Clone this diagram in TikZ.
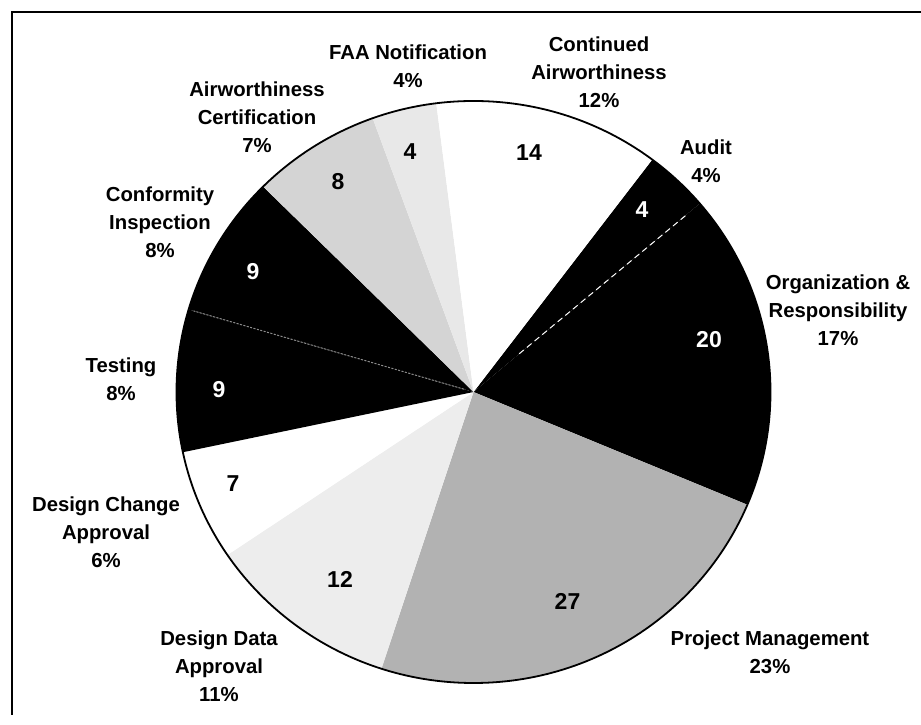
\documentclass[tikz,border=0pt]{standalone}
\usepackage{fontspec}
\setmainfont{Liberation Sans}
\begin{document}
\begin{tikzpicture}[x=1pt,y=1pt,
  lbl/.style={anchor=base,align=center,inner sep=0pt,font=\fontsize{20.3}{28}\selectfont\bfseries},
  num/.style={anchor=base,inner sep=0pt,font=\fontsize{23}{28}\selectfont\bfseries},
  wnum/.style={num,text=white}]
\useasboundingbox (0,0) rectangle (921,725);
\fill[white] (0,0) rectangle (921,725);
% frame (left and top only)
\coordinate (ftl) at (11.7,713.3);
\coordinate (ftr) at (921,713.3);
\coordinate (fbl) at (11.7,10);
\draw[line width=2pt] (fbl) -- (ftl) -- (ftr);
% pie
\coordinate (C) at (473.5,333);
\newcommand{\pieslice}[3]{\fill[#3] (C) -- ++(#1:297pt and 291pt) arc[start angle=#1, end angle=#2, x radius=297pt, y radius=291pt] -- cycle;}
\pieslice{53}{40.368}{black}          % Audit
\pieslice{40.368}{-22.789}{black}     % Organization
\pieslice{-22.789}{-108.053}{black!30}% Project Management
\pieslice{-108.053}{-145.947}{black!7}% Design Data
\pieslice{-145.947}{-168.053}{white}  % Design Change
\pieslice{-168.053}{-196.474}{black}  % Testing
\pieslice{-196.474}{-224.895}{black}  % Conformity
\pieslice{-224.895}{-250.158}{black!17}% Airworthiness Cert
\pieslice{-250.158}{-262.789}{black!9}% FAA
\pieslice{-262.789}{-307}{white}      % Continued
% separators
\path (C) ++(40.368:60pt and 59pt) coordinate (d1);
\path (C) ++(40.368:279pt and 273pt) coordinate (d2);
\draw[white,line width=1pt,dash pattern=on 6pt off 4pt] (d1) -- (d2);
\path (C) ++(163.526:10pt and 10pt) coordinate (g1);
\path (C) ++(163.526:292pt and 286pt) coordinate (g2);
\draw[black!45,line width=1pt,dash pattern=on 2pt off 1.5pt] (g1) -- (g2);
% outline
\draw[line width=1.8pt] (C) ellipse[x radius=297pt, y radius=291pt];
% slice values
\node[num]  (n14) at (529,564) {14};
\node[num]  (n4a) at (410,565) {4};
\node[num]  (n8)  at (338,535) {8};
\node[wnum] (n9a) at (253,445) {9};
\node[wnum] (n9b) at (219,327) {9};
\node[num]  (n7)  at (233,233.3) {7};
\node[num]  (n12) at (340,137) {12};
\node[num]  (n27) at (567.5,115) {27};
\node[wnum] (n20) at (709,377) {20};
\node[wnum] (n4b) at (642,507) {4};
% labels (anchor = baseline of last line)
\node[lbl] (lfaa) at (408,637) {FAA Notification\\4\%};
\node[lbl] (lca)  at (599,617) {Continued\\Airworthiness\\12\%};
\node[lbl] (lac)  at (257,572) {Airworthiness\\Certification\\7\%};
\node[lbl] (laud) at (706,542) {Audit\\4\%};
\node[lbl] (lorg) at (838,379) {Organization \&\\Responsibility\\17\%};
\node[lbl] (lci)  at (160,467.5) {Conformity\\Inspection\\8\%};
\node[lbl] (lts)  at (121,324) {Testing\\8\%};
\node[lbl] (ldc)  at (106,157.5) {Design Change\\Approval\\6\%};
\node[lbl] (ldd)  at (219,23) {Design Data\\Approval\\11\%};
\node[lbl] (lpm)  at (770,51) {Project Management\\23\%};
\end{tikzpicture}
\end{document}
